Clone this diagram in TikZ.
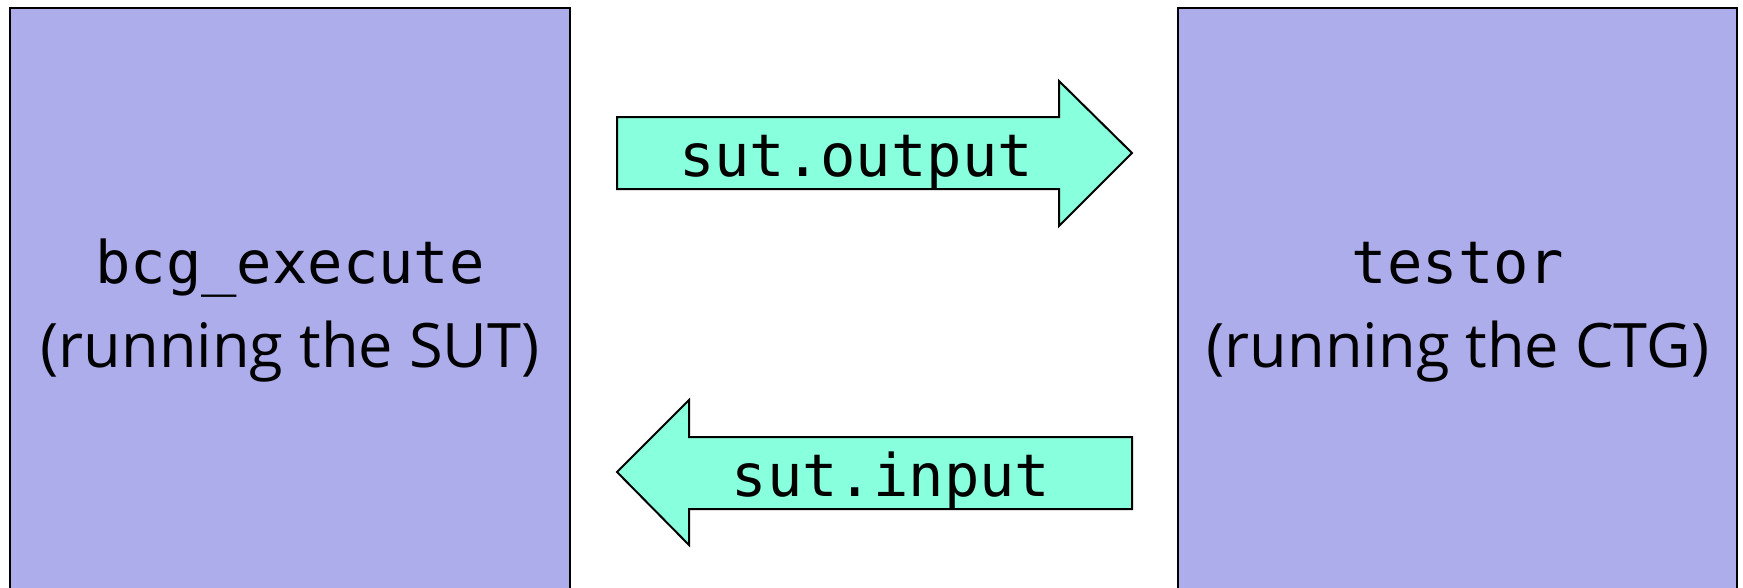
\documentclass[tikz,border=0pt]{standalone}
\usepackage{fontspec}
\newfontfamily\monof{DejaVu Sans Mono}
\newfontfamily\sansf{Open Sans}
\definecolor{boxfill}{RGB}{174,173,236}
\definecolor{arrowfill}{RGB}{136,255,221}
\tikzset{
  procbox/.style={draw=black, line width=2pt, fill=boxfill},
  fatarrow/.style={draw=black, line width=2pt, fill=arrowfill, line join=miter},
  monolabel/.style={font=\monof\fontsize{58.8}{60}\selectfont, anchor=base, inner sep=0pt},
  sanslabel/.style={font=\sansf\fontsize{61.3}{62}\selectfont, anchor=base, inner sep=0pt},
}
\begin{document}
\begin{tikzpicture}[x=1pt,y=-1pt]
\useasboundingbox (0,0) rectangle (1743,587);
\clip (0,0) rectangle (1743,587);
% boxes
\draw[procbox] (10,8) rectangle (570,620);
\draw[procbox] (1178,8) rectangle (1737,620);
\node[monolabel] (sutname) at (290,283) {bcg\_execute};
\node[sanslabel] (sutdesc) at (290,367) {(running the SUT)};
\node[monolabel] (ctgname) at (1458,283) {testor};
\node[sanslabel] (ctgdesc) at (1458,367) {(running the CTG)};
% top arrow
\draw[fatarrow] (617,117) -- (1059,117) -- (1059,81) -- (1132,153) -- (1059,226) -- (1059,189) -- (617,189) -- cycle;
\node[monolabel] (outlabel) at (856,176) {sut.output};
% bottom arrow
\draw[fatarrow] (1132,437) -- (689,437) -- (689,400) -- (617,472) -- (689,545) -- (689,509) -- (1132,509) -- cycle;
\node[monolabel] (inlabel) at (891,496) {sut.input};
\end{tikzpicture}
\end{document}
